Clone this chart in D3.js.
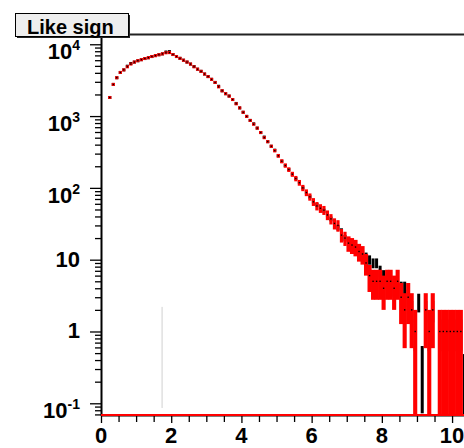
<!DOCTYPE html>
<html>
<head>
<meta charset="utf-8">
<script src="https://cdn.jsdelivr.net/npm/d3@7"></script>
<style>
  body { margin: 0; background: #fff; }
  svg { display: block; }
  text { font-family: "Liberation Sans", Arial, sans-serif; font-weight: bold; fill: #000; }
</style>
</head>
<body>
<div id="chart"></div>
<script>
// histogram bins: width 0.1, first bin centre at 0.25
const binWidth = 0.1;
const redCounts = [
  1815, 2760, 3420, 4050, 4400, 4850, 5300, 5650, 5900, 6100,
  6330, 6500, 6750, 6950, 7150, 7350, 7600, 7650, 7200, 6750,
  6370, 6000, 5650, 5300, 4850, 4500, 4200, 3850, 3550, 3250,
  2940, 2550, 2250, 2050, 1900, 1700, 1480, 1300, 1130, 990,
  870, 770, 680, 590, 500, 440, 380, 330, 280, 235,
  205, 180, 155, 135, 118, 100, 86, 75, 64, 56,
  52, 49, 42, 37, 32, 30, 22, 20, 17, 16,
  15, 13, 12, 9, 6, 5, 5, 5, 4, 5,
  5, 4, 5, 3, 2, 3, 2, 1, 0, 0,
  2, 1, 2, 0, 1, 1, 1, 1, 1, 1,
  1, 0
];
const blackCounts = [
  1815, 2760, 3420, 4050, 4400, 4950, 5400, 5650, 5900, 6100,
  6330, 6500, 6750, 6950, 7150, 7350, 7800, 7900, 7200, 6750,
  6370, 6000, 5650, 5300, 4900, 4500, 4200, 3850, 3550, 3250,
  2940, 2600, 2250, 2050, 1900, 1700, 1500, 1300, 1130, 990,
  870, 780, 680, 590, 510, 440, 380, 335, 280, 235,
  205, 180, 155, 135, 120, 100, 86, 75, 64, 58,
  52, 48, 42, 37, 33, 28, 25, 20, 17, 16,
  15, 13, 12, 11, 10, 9, 9, 7, 6, 5,
  4, 4, 4, 4, 4, 3, 2, 1, 2.6, 0.35,
  2, 1, 2, 0, 1, 1, 1, 1, 1, 1,
  1, 0.25
];
const binCenters = redCounts.map((d, i) => Math.round((0.25 + binWidth * i) * 100) / 100);
const blackWeight = 0.22; // black histogram is weighted

const xTickValues = [0, 2, 4, 6, 8, 10];
const xTickLabels = ['0', '2', '4', '6', '8', '10'];
const xMinorTicks = [0.5, 1, 1.5, 2.5, 3, 3.5, 4.5, 5, 5.5, 6.5, 7, 7.5, 8.5, 9, 9.5];
const yTickValues = [0.1, 1, 10, 100, 1000, 10000];
const yTickBase = ['10', '1', '10', '10', '10', '10'];
const yTickExp = ['-1', '', '', '2', '3', '4'];
const greyLine = { x: 1.74, y0: 0.086, y1: 2.2 };
const title = 'Like sign';

const W = 464, H = 448;
const frame = { left: 101, right: 464, top: 34, bottom: 415 };

const svg = d3.select('#chart').append('svg')
  .attr('width', W).attr('height', H);

const x = d3.scaleLinear().domain([0, 10.34]).range([frame.left, frame.right]);
const y = d3.scaleLog().domain([0.0687, 13900]).range([frame.bottom, frame.top]);
const yMin = y.domain()[0];
const binPx = x(binWidth) - x(0);

// frame top line
svg.append('line')
  .attr('x1', frame.left).attr('x2', frame.right)
  .attr('y1', frame.top + 0.5).attr('y2', frame.top + 0.5)
  .attr('stroke', '#222').attr('stroke-width', 2);

// minor y ticks 2..9 per decade
const yMinor = [];
[0.01, 0.1, 1, 10, 100, 1000, 10000].forEach((dec) => {
  for (let k = 2; k <= 9; k++) {
    const v = dec * k;
    if (v > yMin && v < y.domain()[1]) yMinor.push(v);
  }
});

const yAxisG = svg.append('g').attr('transform', `translate(${frame.left},0)`);
yAxisG.call(d3.axisLeft(y).tickValues(yTickValues).tickSize(11).tickSizeOuter(0).tickFormat(''));
yAxisG.select('.domain').attr('stroke-width', 2);
yAxisG.selectAll('.tick line').attr('stroke-width', 1.3);
const yMinorG = svg.append('g').attr('transform', `translate(${frame.left},0)`);
yMinorG.call(d3.axisLeft(y).tickValues(yMinor).tickSize(6).tickFormat(''));
yMinorG.select('.domain').remove();
yMinorG.selectAll('.tick line').attr('stroke-width', 1.3);

// y labels with superscripts
yTickValues.forEach((v, i) => {
  const hasExp = yTickExp[i] !== '';
  const t = svg.append('text')
    .attr('x', 80)
    .attr('y', y(v) + (hasExp ? 15 : 7))
    .attr('text-anchor', 'end')
    .style('font-size', '22px');
  t.append('tspan').text(yTickBase[i]);
  if (hasExp) {
    t.append('tspan').attr('dy', -9).style('font-size', '14px').text(yTickExp[i]);
  }
});

// x axis
const xAxisG = svg.append('g').attr('transform', `translate(0,${frame.bottom})`);
xAxisG.call(d3.axisBottom(x).tickValues(xTickValues).tickSize(8).tickSizeOuter(0).tickFormat(''));
xAxisG.select('.domain').attr('stroke-width', 2);
xAxisG.selectAll('.tick line').attr('stroke-width', 1.3);
const xMinorG = svg.append('g').attr('transform', `translate(0,${frame.bottom})`);
xMinorG.call(d3.axisBottom(x).tickValues(xMinorTicks).tickSize(7).tickFormat(''));
xMinorG.select('.domain').remove();
xMinorG.selectAll('.tick line').attr('stroke-width', 1.3);

svg.selectAll('.xlab')
  .data(xTickValues)
  .enter()
  .append('text')
  .attr('class', 'xlab')
  .attr('x', (d) => x(d))
  .attr('y', frame.bottom + 28)
  .attr('text-anchor', 'middle')
  .style('font-size', '22px')
  .text((d, i) => xTickLabels[i]);

// plot area clip
svg.append('clipPath').attr('id', 'clip')
  .append('rect')
  .attr('x', frame.left).attr('y', frame.top)
  .attr('width', frame.right - frame.left).attr('height', frame.bottom - frame.top);
const plot = svg.append('g').attr('clip-path', 'url(#clip)');

// faint grey vertical line
plot.append('line')
  .attr('x1', x(greyLine.x)).attr('x2', x(greyLine.x))
  .attr('y1', y(greyLine.y1)).attr('y2', y(greyLine.y0))
  .attr('stroke', '#d0d0d0').attr('stroke-width', 1);

function errBox(v, w) {
  const e = Math.sqrt(v * w);
  const hi = y(v + e);
  const lo = v - e > yMin ? y(v - e) : frame.bottom + 2;
  const h = Math.max(3, lo - hi);
  return { top: (hi + lo) / 2 - h / 2, h };
}

const blackData = binCenters.map((c, i) => ({ c, v: blackCounts[i] })).filter((d) => d.v > 0);
const redData = binCenters.map((c, i) => ({ c, v: redCounts[i] })).filter((d) => d.v > 0);

// black histogram (drawn underneath)
plot.selectAll('.blackErr')
  .data(blackData)
  .enter()
  .append('rect')
  .attr('class', 'blackErr')
  .attr('x', (d) => x(d.c) - 1.5)
  .attr('width', 3)
  .attr('y', (d) => errBox(d.v, blackWeight).top)
  .attr('height', (d) => errBox(d.v, blackWeight).h)
  .attr('fill', '#000');

// red histogram, error boxes one bin wide
plot.selectAll('.redErr')
  .data(redData)
  .enter()
  .append('rect')
  .attr('class', 'redErr')
  .attr('x', (d) => x(d.c) - (d.v < 20 ? binPx / 2 + 0.3 : 1.6))
  .attr('width', (d) => (d.v < 20 ? binPx + 0.6 : 3.2))
  .attr('y', (d) => errBox(d.v, 1).top)
  .attr('height', (d) => errBox(d.v, 1).h)
  .attr('fill', '#ff0000');

// dot markers
plot.selectAll('.redDot')
  .data(redData)
  .enter()
  .append('rect')
  .attr('class', 'redDot')
  .attr('x', (d) => x(d.c) - 0.7)
  .attr('y', (d) => y(d.v) - 0.7)
  .attr('width', 1.4)
  .attr('height', 1.4)
  .attr('fill', '#000');

// red zero line along the bottom
svg.append('line')
  .attr('x1', x(0)).attr('x2', frame.right)
  .attr('y1', y(yMin)).attr('y2', y(yMin))
  .attr('stroke', '#ff0000').attr('stroke-width', 2);

// title box with shadow
const tb = { x: 15, y: 13, w: 113, h: 23 };
svg.append('rect')
  .attr('x', tb.x + 2).attr('y', tb.y + 2).attr('width', tb.w).attr('height', tb.h)
  .attr('fill', '#222');
svg.append('rect')
  .attr('x', tb.x + 0.5).attr('y', tb.y + 0.5).attr('width', tb.w).attr('height', tb.h)
  .attr('fill', '#eeeeee').attr('stroke', '#000').attr('stroke-width', 1);
svg.append('text')
  .attr('x', 27).attr('y', 34)
  .style('font-size', '20px')
  .text(title);
</script>
</body>
</html>
